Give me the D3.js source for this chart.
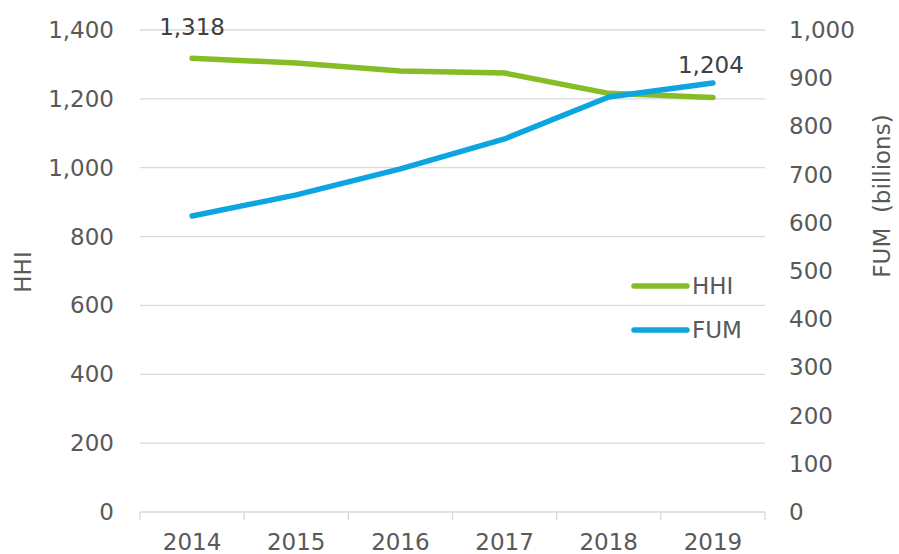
<!DOCTYPE html>
<html>
<head>
<meta charset="utf-8">
<script src="https://cdn.jsdelivr.net/npm/d3@7"></script>
<style>
  body { margin: 0; background: #fff; }
  text { font-family: "DejaVu Sans", Verdana, sans-serif; fill: #595959; }
</style>
</head>
<body>
<div id="chart"></div>
<script>
// chart data
const years = ['2014', '2015', '2016', '2017', '2018', '2019']
const hhi = [1318, 1304, 1281, 1275, 1216, 1204]
const fum = [614, 658, 712, 774, 861, 890]
const hhiTicks = [0, 200, 400, 600, 800, 1000, 1200, 1400]
const fumTicks = [0, 100, 200, 300, 400, 500, 600, 700, 800, 900, 1000]

const width = 899
const height = 554
const margin = { top: 30, right: 134, bottom: 42, left: 140 }
const fontSize = 23

const svg = d3.select('#chart')
	.append('svg')
	.attr('width', width)
	.attr('height', height)

const x = d3.scaleBand()
	.domain(years)
	.range([margin.left, width - margin.right])

const yLeft = d3.scaleLinear()
	.domain([0, 1400])
	.range([height - margin.bottom, margin.top])

const yRight = d3.scaleLinear()
	.domain([0, 1000])
	.range([height - margin.bottom, margin.top])

const fmt = d3.format(',')

// gridlines
svg.append('g')
	.selectAll('line')
	.data(hhiTicks)
	.join('line')
	.attr('x1', margin.left)
	.attr('x2', width - margin.right)
	.attr('y1', d => yLeft(d))
	.attr('y2', d => yLeft(d))
	.attr('stroke', '#d9d9d9')
	.attr('stroke-width', 1.3)

// x axis ticks at band edges
const edges = years.map(d => x(d)).concat([x.range()[1]])
svg.append('g')
	.selectAll('line')
	.data(edges)
	.join('line')
	.attr('x1', d => d)
	.attr('x2', d => d)
	.attr('y1', yLeft(0))
	.attr('y2', yLeft(0) + 8)
	.attr('stroke', '#d9d9d9')
	.attr('stroke-width', 1.3)

svg.append('g')
	.selectAll('text')
	.data(years)
	.join('text')
	.attr('x', d => x(d) + x.bandwidth() / 2)
	.attr('y', 550)
	.attr('text-anchor', 'middle')
	.attr('font-size', fontSize)
	.text(d => d)

// left axis labels
svg.append('g')
	.selectAll('text')
	.data(hhiTicks)
	.join('text')
	.attr('x', 114)
	.attr('y', d => yLeft(d))
	.attr('dy', '0.35em')
	.attr('text-anchor', 'end')
	.attr('font-size', fontSize)
	.text(d => fmt(d))

// right axis labels
svg.append('g')
	.selectAll('text')
	.data(fumTicks)
	.join('text')
	.attr('x', 789)
	.attr('y', d => yRight(d))
	.attr('dy', '0.35em')
	.attr('text-anchor', 'start')
	.attr('font-size', fontSize)
	.text(d => fmt(d))

// axis titles
svg.append('text')
	.attr('transform', 'translate(31,272) rotate(-90)')
	.attr('text-anchor', 'middle')
	.attr('font-size', fontSize)
	.text('HHI')

svg.append('text')
	.attr('transform', 'translate(890,196) rotate(-90)')
	.attr('text-anchor', 'middle')
	.attr('font-size', fontSize)
	.attr('xml:space', 'preserve')
	.style('white-space', 'pre')
	.text('FUM  (billions)')

const cx = d => x(d) + x.bandwidth() / 2

const hhiLine = d3.line()
	.x((d, i) => cx(years[i]))
	.y(d => yLeft(d))

const fumLine = d3.line()
	.x((d, i) => cx(years[i]))
	.y(d => yRight(d))

svg.append('path')
	.datum(hhi)
	.attr('fill', 'none')
	.attr('stroke', '#86bc25')
	.attr('stroke-width', 5.5)
	.attr('stroke-linecap', 'round')
	.attr('stroke-linejoin', 'round')
	.attr('d', hhiLine)

svg.append('path')
	.datum(fum)
	.attr('fill', 'none')
	.attr('stroke', '#0da5e0')
	.attr('stroke-width', 5.5)
	.attr('stroke-linecap', 'round')
	.attr('stroke-linejoin', 'round')
	.attr('d', fumLine)

// data labels, first and last HHI
const lastIdx = hhi.length - 1
svg.append('text')
	.attr('x', cx(years[0]))
	.attr('y', yLeft(hhi[0]) - 23)
	.attr('text-anchor', 'middle')
	.attr('font-size', fontSize)
	.style('fill', '#404040')
	.text(fmt(hhi[0]))

svg.append('text')
	.attr('x', cx(years[lastIdx]) - 2)
	.attr('y', yLeft(hhi[lastIdx]) - 24)
	.attr('text-anchor', 'middle')
	.attr('font-size', fontSize)
	.style('fill', '#404040')
	.text(fmt(hhi[lastIdx]))

// legend
const legend = [
	{ name: 'HHI', color: '#86bc25', y: 286 },
	{ name: 'FUM', color: '#0da5e0', y: 330 },
]
const lg = svg.append('g')
	.selectAll('g')
	.data(legend)
	.join('g')

lg.append('line')
	.attr('x1', 634)
	.attr('x2', 687)
	.attr('y1', d => d.y)
	.attr('y2', d => d.y)
	.attr('stroke', d => d.color)
	.attr('stroke-width', 5.5)
	.attr('stroke-linecap', 'round')

lg.append('text')
	.attr('x', 692)
	.attr('y', d => d.y)
	.attr('dy', '0.35em')
	.attr('font-size', fontSize)
	.text(d => d.name)
</script>
</body>
</html>
